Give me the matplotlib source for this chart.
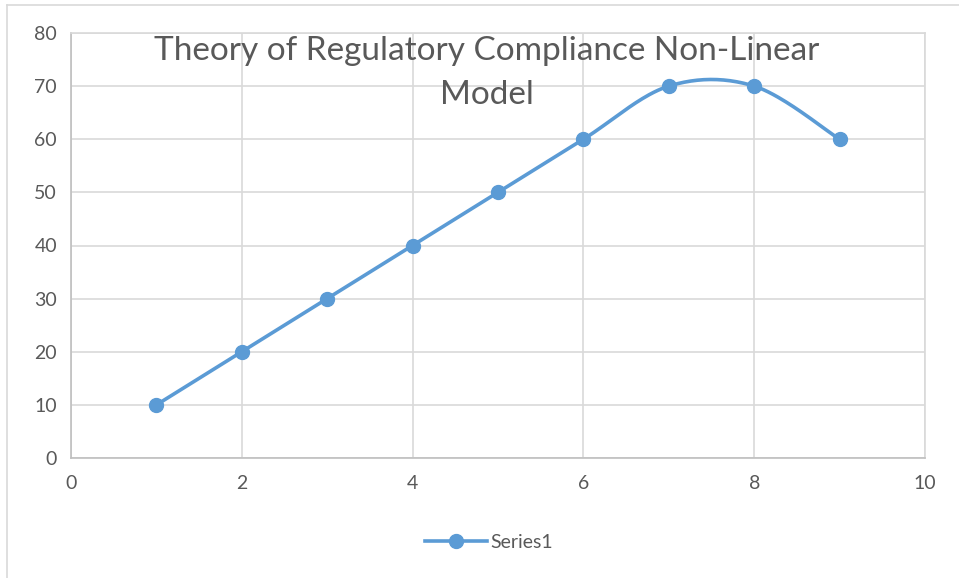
import numpy as np
import matplotlib.pyplot as plt
from matplotlib.lines import Line2D

plt.rcParams['font.family'] = ['Lato', 'DejaVu Sans']

x_vals = [1, 2, 3, 4, 5, 6, 7, 8, 9]
y_vals = [10, 20, 30, 40, 50, 60, 70, 70, 60]
title = "Theory of Regulatory Compliance Non-Linear\nModel"
series_name = "Series1"

blue = "#5B9BD5"
text_col = "#595959"
grid_col = "#D9D9D9"


# smooth line like the spreadsheet's "smoothed line" option (Catmull-Rom)
def smooth(xs, ys, n=40):
    p = np.column_stack([xs, ys]).astype(float)
    p = np.vstack([p[0], p, p[-1]])
    out = []
    for i in range(1, len(p) - 2):
        p0, p1, p2, p3 = p[i - 1], p[i], p[i + 1], p[i + 2]
        t = np.linspace(0, 1, n)[:, None]
        m1 = (p2 - p0) / 2
        m2 = (p3 - p1) / 2
        h00 = 2 * t**3 - 3 * t**2 + 1
        h10 = t**3 - 2 * t**2 + t
        h01 = -2 * t**3 + 3 * t**2
        h11 = t**3 - t**2
        out.append(h00 * p1 + h10 * m1 + h01 * p2 + h11 * m2)
    c = np.vstack(out)
    return c[:, 0], c[:, 1]


fig = plt.figure(figsize=(9.59, 5.78), dpi=100)
ax = fig.add_axes([71 / 959, 1 - 458 / 578, (925 - 71) / 959, (458 - 33) / 578])

sx, sy = smooth(x_vals, y_vals)
ax.plot(sx, sy, color=blue, lw=2.6, solid_capstyle='round', zorder=3)
ax.plot(x_vals, y_vals, 'o', color=blue, ms=10, zorder=4)

ax.set_xlim(0, 10)
ax.set_ylim(0, 80)
ax.set_xticks(range(0, 11, 2))
ax.set_yticks(range(0, 81, 10))
ax.grid(True, color=grid_col, lw=1.2)
ax.set_axisbelow(True)
for s in ax.spines.values():
    s.set_color(grid_col)
    s.set_linewidth(1.2)
ax.spines['left'].set_color("#BFBFBF")
ax.spines['bottom'].set_color("#BFBFBF")
ax.tick_params(length=0, labelsize=14, colors=text_col, pad=10)
ax.tick_params(axis='x', pad=12)

fig.text(0.508, 1 - 73 / 578, title, ha='center', va='center', fontsize=24,
         color=text_col, linespacing=1.55, fontweight='normal')

handle = Line2D([], [], color=blue, lw=2.6, marker='o', ms=10)
fig.legend([handle], [series_name], loc='center', bbox_to_anchor=(0.51, 1 - 542 / 578),
           frameon=False, fontsize=14, labelcolor=text_col, handlelength=3.2,
           handletextpad=0.2)

# outer chart border
fig.add_artist(Line2D([7 / 959, 7 / 959], [0, 1 - 5 / 578], color=grid_col, lw=1.2))
fig.add_artist(Line2D([7 / 959, 1], [1 - 5 / 578, 1 - 5 / 578], color=grid_col, lw=1.2))

fig.savefig("out.png", dpi=100)
